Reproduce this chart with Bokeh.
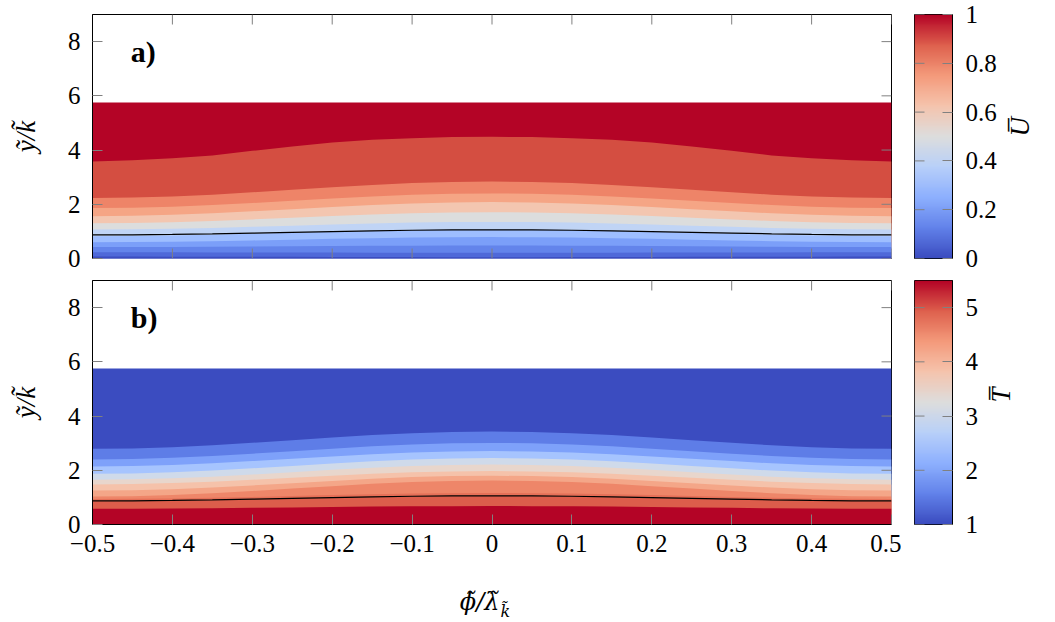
import math
import numpy as np
from bokeh.plotting import figure
from bokeh.layouts import column, row
from bokeh.models import FixedTicker, Label, Range1d, LinearColorMapper
from bokeh.core.properties import value
from bokeh.embed import file_html
from bokeh.resources import INLINE

# ---------------- data ----------------
# streamwise positions phi/lambda
x_phi = [-0.5, -0.45, -0.4, -0.35, -0.3, -0.25, -0.2, -0.15, -0.1, -0.05, 0.0,
         0.05, 0.1, 0.15, 0.2, 0.25, 0.3, 0.35, 0.4, 0.45, 0.5]
# black line (wave surface) height y/k
wave_line = [0.87, 0.875, 0.888, 0.909, 0.936, 0.965, 0.994, 1.021, 1.042, 1.055, 1.06,
             1.055, 1.042, 1.021, 0.994, 0.965, 0.936, 0.909, 0.888, 0.875, 0.87]
y_data_top = 5.75

# panel a) mean velocity U: band boundaries at the edges (x=+-0.5) and at the centre (x=0)
u_bounds_edge = [0.07, 0.23, 0.42, 0.60, 0.82, 1.07, 1.30, 1.56, 1.86, 2.23]
u_bounds_centre = [0.05, 0.21, 0.48, 0.79, 1.08, 1.35, 1.71, 2.08, 2.40, 2.84]
# lower edge of the free-stream (U = 1) region
u_top_band_lower = [3.58, 3.62, 3.70, 3.80, 3.97, 4.13, 4.28, 4.38, 4.44, 4.48, 4.49,
                    4.48, 4.44, 4.38, 4.28, 4.13, 3.97, 3.80, 3.70, 3.62, 3.58]
u_band_colors = ["#3b4cc0", "#4f69d9", "#6384eb", "#7b9ff9", "#9ebeff", "#c0d4f5",
                 "#dcdddd", "#f3c6b0", "#f5a585", "#ee8468", "#d44e41", "#b40426"]

# panel b) mean temperature T
t_bounds_edge = [0.58, 0.86, 0.94, 1.03, 1.25, 1.48, 1.65, 1.87, 2.14, 2.40, 2.79]
t_bounds_centre = [0.68, 1.04, 1.16, 1.62, 1.80, 1.97, 2.21, 2.45, 2.71, 3.01, 3.43]
t_band_colors = ["#b40426", "#dc5d4b", "#e57058", "#ee8669", "#f4a688", "#f5c2aa",
                 "#e8d6cc", "#cfdaea", "#a6c4fe", "#7ea1fa", "#5e7de7", "#3b4cc0"]

x_ticks = [-0.5, -0.4, -0.3, -0.2, -0.1, 0.0, 0.1, 0.2, 0.3, 0.4, 0.5]
x_tick_labels = ["\u22120.5", "\u22120.4", "\u22120.3", "\u22120.2", "\u22120.1", "0",
                 "0.1", "0.2", "0.3", "0.4", "0.5"]
y_ticks = [0, 2, 4, 6, 8]
y_tick_labels = ["0", "2", "4", "6", "8"]
u_cbar_ticks = [0, 0.2, 0.4, 0.6, 0.8, 1.0]
u_cbar_labels = ["0", "0.2", "0.4", "0.6", "0.8", "1"]
t_cbar_ticks = [1, 2, 3, 4, 5]
t_cbar_labels = ["1", "2", "3", "4", "5"]

# coolwarm anchor colours for the colour bars
cw_anchors = [(59, 76, 192), (98, 130, 234), (141, 176, 254), (184, 208, 249),
              (221, 221, 221), (245, 196, 173), (244, 154, 123), (222, 96, 77), (180, 4, 38)]

FONT = "Liberation Serif"
MATH_FONT = "DejaVu Serif"
FS = "25px"
TICK_COL = "#808080"
TICK_PX = 10
FRAME_W, FRAME_H = 799, 244
CBAR_W = 38

xs = np.array(x_phi)
wl = np.array(wave_line)
shape = (wl - wl[0]) / (wl.max() - wl[0])


def make_palette(n=256):
    a = np.array(cw_anchors, dtype=float)
    pos = np.linspace(0, 1, len(a))
    t = np.linspace(0, 1, n)
    out = []
    for v in t:
        r = np.interp(v, pos, a[:, 0]); g = np.interp(v, pos, a[:, 1]); b = np.interp(v, pos, a[:, 2])
        out.append("#%02x%02x%02x" % (int(round(r)), int(round(g)), int(round(b))))
    return out


PALETTE = make_palette()


def style_axis(ax, ticks, labels):
    ax.ticker = FixedTicker(ticks=ticks)
    ax.major_tick_in = TICK_PX
    ax.major_tick_out = 0
    ax.minor_tick_in = 0
    ax.minor_tick_out = 0
    ax.major_tick_line_color = TICK_COL
    ax.axis_line_color = "black"
    ax.major_label_text_font = FONT
    ax.major_label_text_font_size = FS
    ax.major_label_text_color = "black"
    ax.axis_label_text_font = FONT
    ax.axis_label_text_font_size = "27px"
    ax.axis_label_text_color = "black"
    ax.axis_label_text_font_style = "italic"
    ax.major_label_overrides = {t: l for t, l in zip(ticks, labels)}


def inner_ticks(p, positions, side, span_lo, span_hi, lo, hi, frame_px):
    """inward tick marks on an unlabelled side"""
    length = TICK_PX * (span_hi - span_lo) / frame_px
    pos = list(positions)
    if side == "bottom":
        p.segment(x0=pos, x1=pos, y0=[lo] * len(pos), y1=[lo + length] * len(pos),
                  line_color=TICK_COL, line_width=1)
    elif side == "top":
        p.segment(x0=pos, x1=pos, y0=[hi] * len(pos), y1=[hi - length] * len(pos),
                  line_color=TICK_COL, line_width=1)
    elif side == "left":
        p.segment(y0=pos, y1=pos, x0=[lo] * len(pos), x1=[lo + length] * len(pos),
                  line_color=TICK_COL, line_width=1)
    elif side == "right":
        p.segment(y0=pos, y1=pos, x0=[hi] * len(pos), x1=[hi - length] * len(pos),
                  line_color=TICK_COL, line_width=1)


def main_panel(bounds_edge, bounds_centre, top_lower, colors, letter, bottom_labels,
               height, border_bottom, border_top):
    p = figure(width=92 + FRAME_W + 10, height=height, x_range=Range1d(-0.5, 0.5),
               y_range=Range1d(0, 9), output_backend="svg", toolbar_location=None,
               min_border_left=92, min_border_right=10, min_border_top=border_top,
               min_border_bottom=border_bottom)
    p.xgrid.visible = False
    p.ygrid.visible = False
    p.outline_line_color = "black"
    p.outline_line_alpha = 1.0
    p.background_fill_color = "white"
    p.border_fill_color = "white"

    uppers = []
    for e, c in zip(bounds_edge, bounds_centre):
        uppers.append(e + (c - e) * shape)
    if top_lower is not None:
        uppers.append(np.array(top_lower))
    uppers.append(np.full_like(xs, y_data_top))
    # paint from the top band downwards: each band from 0 to its upper edge
    for k in range(len(colors) - 1, -1, -1):
        p.varea(x=xs, y1=0, y2=uppers[k], fill_color=colors[k], fill_alpha=1.0)
    p.line(xs, wl, line_color="black", line_width=1.2)

    # ticks on the unlabelled sides
    inner_ticks(p, x_ticks, "top", 0, 9, 0, 9, FRAME_H)
    inner_ticks(p, y_ticks, "right", -0.5, 0.5, -0.5, 0.5, FRAME_W)

    if bottom_labels:
        style_axis(p.xaxis[0], x_ticks, x_tick_labels)
        p.xaxis[0].major_label_standoff = 10
    else:
        p.xaxis.visible = False
        inner_ticks(p, x_ticks, "bottom", 0, 9, 0, 9, FRAME_H)

    style_axis(p.yaxis[0], y_ticks, y_tick_labels)
    p.yaxis[0].major_label_standoff = 12
    p.yaxis[0].axis_label = "y\u0303/k\u0303"
    p.yaxis[0].axis_label_standoff = 24

    p.add_layout(Label(x=-0.452, y=7.64, text=letter, text_font=FONT, text_font_style="bold",
                       text_font_size="30px", text_baseline="middle", text_align="left",
                       text_color="black"))
    return p


def cbar_panel(lo, hi, ticks, labels, title, height, border_bottom, border_top):
    c = figure(width=13 + CBAR_W + 103, height=height, x_range=Range1d(0, 1),
               y_range=Range1d(lo, hi), output_backend="svg", toolbar_location=None,
               y_axis_location="right", min_border_left=13, min_border_right=103,
               min_border_top=border_top, min_border_bottom=border_bottom)
    c.xgrid.visible = False
    c.ygrid.visible = False
    c.xaxis.visible = False
    c.outline_line_color = "black"
    c.border_fill_color = "white"
    grad = np.linspace(lo, hi, 256).reshape(-1, 1)
    mapper = LinearColorMapper(palette=PALETTE, low=lo, high=hi)
    c.image(image=[grad], x=0, y=lo, dw=1, dh=hi - lo, color_mapper=mapper)
    inner_ticks(c, ticks, "left", 0, 1, 0, 1, CBAR_W)
    style_axis(c.yaxis[0], ticks, labels)
    c.yaxis[0].major_label_standoff = 13
    c.yaxis[0].axis_label = title
    c.yaxis[0].axis_label_standoff = 20
    c.yaxis[0].axis_label_orientation = math.pi / 2
    return c


H_A = 14 + FRAME_H + 16
H_B = 6 + FRAME_H + 45
H_X = 622 - H_A - H_B
pa = main_panel(u_bounds_edge, u_bounds_centre, u_top_band_lower, u_band_colors, "a)", False,
                H_A, 16, 14)
pb = main_panel(t_bounds_edge, t_bounds_centre, None, t_band_colors, "b)", True,
                H_B, 45, 6)
ca = cbar_panel(0, 1, u_cbar_ticks, u_cbar_labels, "U\u0305", H_A, 16, 14)
cb = cbar_panel(1, 5.5, t_cbar_ticks, t_cbar_labels, "T\u0305", H_B, 45, 6)

# strip holding the x-axis title phi/lambda_k (pixel coordinates of this strip)
xl = figure(width=1055, height=H_X, x_range=Range1d(0, 1055), y_range=Range1d(H_X, 0),
            output_backend="svg", toolbar_location=None, min_border=0,
            min_border_left=0, min_border_right=0, min_border_top=0, min_border_bottom=0)
xl.axis.visible = False
xl.xgrid.visible = False
xl.ygrid.visible = False
xl.outline_line_color = None
y0 = 622 - H_X
xl.text(x=[499], y=[601 - y0], text=["\u03d5\u0303/\u03bb\u0303"], text_font=value(MATH_FONT),
        text_font_style="italic", text_font_size="24px", text_baseline="alphabetic",
        text_align="right", text_color="black")
xl.text(x=[500], y=[611 - y0], text=["k\u0303"], text_font=value(MATH_FONT),
        text_font_style="italic", text_font_size="16px", text_baseline="alphabetic",
        text_align="left", text_color="black")

layout = column(row(pa, ca), row(pb, cb), xl)
open("out.html", "w").write(file_html(layout, INLINE))
